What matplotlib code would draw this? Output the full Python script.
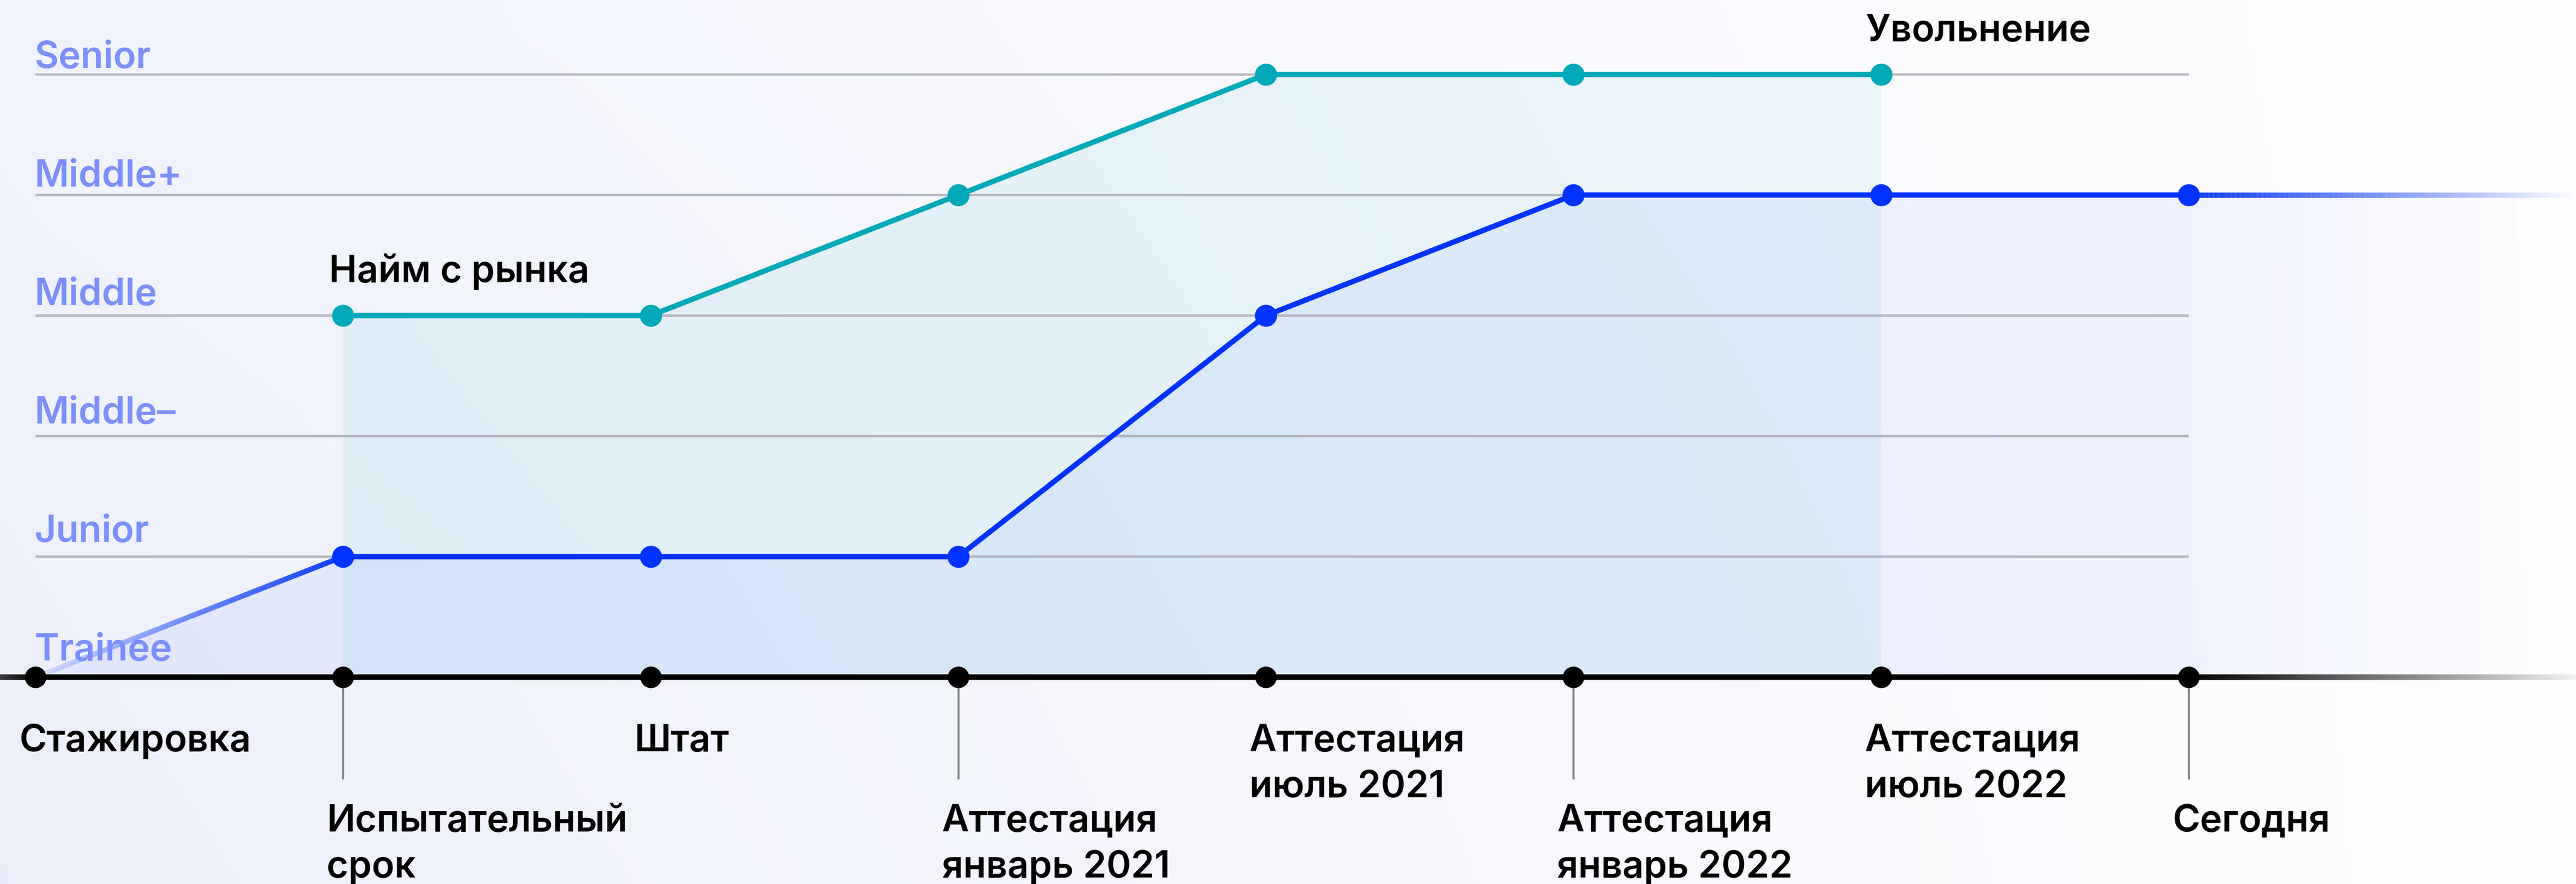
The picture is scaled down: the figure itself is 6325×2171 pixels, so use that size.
import numpy as np
import matplotlib
matplotlib.use('Agg')
import matplotlib.pyplot as plt
from matplotlib.collections import LineCollection
from matplotlib.colors import to_rgb

# ---------------- data ----------------
stages = ['Стажировка', 'Испытательный\nсрок', 'Штат', 'Аттестация\nянварь 2021',
          'Аттестация\nиюль 2021', 'Аттестация\nянварь 2022', 'Аттестация\nиюль 2022', 'Сегодня']
grades = ['Trainee', 'Junior', 'Middle–', 'Middle', 'Middle+', 'Senior']
internal_stage = [0, 1, 2, 3, 4, 5, 6, 7]
internal_grade = [0, 1, 1, 1, 3, 4, 4, 4]
market_stage = [1, 2, 3, 4, 5, 6]
market_grade = [3, 3, 4, 5, 5, 5]
market_notes = ['Найм с рынка', 'Увольнение']

# ---------------- style ----------------
BLUE = '#0033ff'
TEAL = '#00a9b9'
GRID = '#b6b8c3'
LEVEL_C = '#7b90fb'
FONT = ['Inter', 'DejaVu Sans']
FW = 'semibold'
FS = 66

W, H, DPI = 6325, 2171, 100
X0_PX, DX_PX = 87, 755.3
Y0_PX, DY_PX = 1663, 296

fig = plt.figure(figsize=(W / DPI, H / DPI), dpi=DPI)
ax = fig.add_axes([0, 0, 1, 1])
xmin = -X0_PX / DX_PX
xmax = (W - X0_PX) / DX_PX
ymax = Y0_PX / DY_PX
ymin = -(H - Y0_PX) / DY_PX
ax.set_xlim(xmin, xmax)
ax.set_ylim(ymin, ymax)
ax.axis('off')

# background gradient
nx, ny = 400, 60
tx = np.linspace(0, 1, nx)[None, :]
ty = np.linspace(0, 1, ny)[:, None]  # 0 top -> 1 bottom
left = np.array([0.945, 0.955, 0.99]) * (1 - ty[..., None]) + np.array([0.925, 0.935, 0.982]) * ty[..., None]
right = np.array([0.997, 0.997, 1.0])
t = (tx ** 0.9)[..., None]
bg = left * (1 - t) + right * t
ax.imshow(bg, extent=[xmin, xmax, ymin, ymax], aspect='auto', zorder=0, interpolation='bicubic')


def fade_line(xa, xb, ya, yb, color, a0, a1, lw, z, n=300):
    xs = np.linspace(xa, xb, n + 1)
    ys = np.linspace(ya, yb, n + 1)
    segs = np.stack([np.column_stack([xs[:-1], ys[:-1]]),
                     np.column_stack([xs[1:], ys[1:]])], axis=1)
    rgba = np.zeros((n, 4))
    rgba[:, :3] = to_rgb(color)
    rgba[:, 3] = np.linspace(a0, a1, n)
    ax.add_collection(LineCollection(segs, colors=rgba, linewidths=lw, zorder=z, capstyle='butt'))


# fills
ax.fill_between(internal_stage, internal_grade, 0, color=BLUE, alpha=0.05, lw=0, zorder=1)
grad = np.zeros((2, 300, 4))
grad[..., :3] = to_rgb(BLUE)
grad[..., 3] = np.linspace(0.05, 0.0, 300)[None, :]
ax.imshow(grad, extent=[internal_stage[-1], xmax, 0, internal_grade[-1]], aspect='auto', zorder=1)
ax.fill_between(market_stage, market_grade, 0, color=TEAL, alpha=0.065, lw=0, zorder=1.1)

# grid lines
for lvl in range(1, len(grades)):
    ax.plot([internal_stage[0], internal_stage[-1]], [lvl, lvl], color=GRID, lw=4.3,
            zorder=2, solid_capstyle='butt')

# timeline
ax.plot([internal_stage[0], internal_stage[-1]], [0, 0], color='black', lw=10, zorder=3,
        solid_capstyle='butt')
fade_line(xmin, internal_stage[0], 0, 0, 'black', 0.75, 1.0, 10, 3)
fade_line(internal_stage[-1], xmax, 0, 0, 'black', 1.0, 0.05, 10, 3)

# connectors for lower labels
for i in range(1, len(stages), 2):
    ax.plot([i, i], [0, -0.838], color='#8c8c8c', lw=3.6, zorder=2.5)

# internal career line
fade_line(internal_stage[0], internal_stage[1], internal_grade[0], internal_grade[1], BLUE, 0.08, 1.0, 9.4, 4)
ax.plot(internal_stage[1:], internal_grade[1:], color=BLUE, lw=9.4, zorder=4, solid_joinstyle='round')
fade_line(internal_stage[-1], xmax, internal_grade[-1], internal_grade[-1], BLUE, 1.0, 0.0, 9.4, 4)

# market line
ax.plot(market_stage, market_grade, color=TEAL, lw=9.4, zorder=4, solid_joinstyle='round')

# dots
ax.plot(internal_stage, [0] * len(internal_stage), 'o', ms=37, color='black', zorder=5)
ax.plot(internal_stage[1:], internal_grade[1:], 'o', ms=38, color=BLUE, zorder=6)
ax.plot(market_stage, market_grade, 'o', ms=38, color=TEAL, zorder=6)

# level labels
for lvl, name in enumerate(grades):
    ax.text(-0.003, lvl + 0.139 - lvl * 0.017, name, ha='left', va='baseline',
            fontsize=FS, color=LEVEL_C, family=FONT, fontweight=FW, zorder=7)

# stage labels
for i, lab in enumerate(stages):
    base = -0.615 if i % 2 == 0 else -1.280
    for j, line in enumerate(lab.split('\n')):
        ax.text(i - 0.053, base - j * 0.382, line, ha='left', va='baseline',
                fontsize=FS, color='black', family=FONT, fontweight=FW, zorder=7)

# notes
ax.text(market_stage[0] - 0.045, market_grade[0] + 0.277, market_notes[0], ha='left', va='baseline',
        fontsize=FS, color='black', family=FONT, fontweight=FW, zorder=7)
ax.text(market_stage[-1] - 0.050, market_grade[-1] + 0.277, market_notes[1], ha='left', va='baseline',
        fontsize=FS, color='black', family=FONT, fontweight=FW, zorder=7)

fig.savefig('out.png', dpi=DPI)
